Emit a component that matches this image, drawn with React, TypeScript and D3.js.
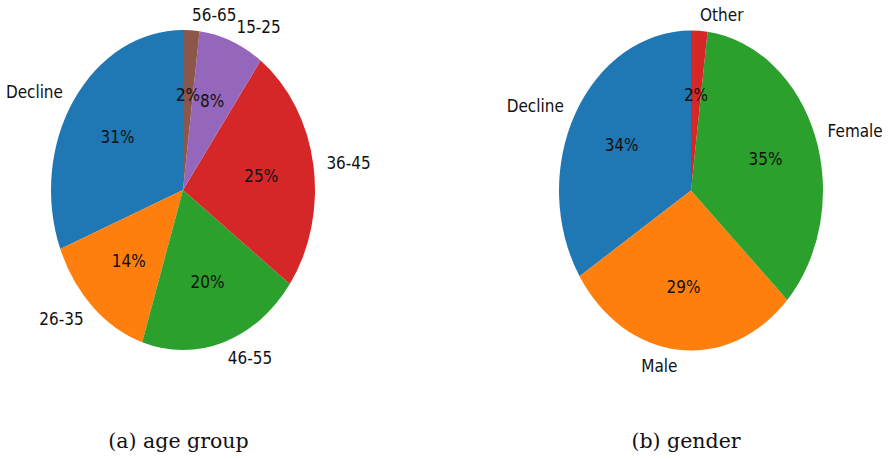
import * as d3 from 'd3';
import { useEffect, useRef } from 'react';

// age group pie (matplotlib order, counterclockwise from top)
const ageLabels = ['Decline', '26-35', '46-55', '36-45', '15-25', '56-65'];
const ageValues = [31, 14, 20, 25, 8, 2];

// gender pie
const genderLabels = ['Decline', 'Male', 'Female', 'Other'];
const genderValues = [34, 29, 35, 2];

const captions = ['(a) age group', '(b) gender'];

const colors = ['#1f77b4', '#ff7f0e', '#2ca02c', '#d62728', '#9467bd', '#8c564b'];

const W = 891;
const H = 459;

export default function App() {
  const svgRef = useRef<SVGSVGElement>(null);

  useEffect(() => {
    if (!svgRef.current) return;
    const svg = d3.select(svgRef.current);
    svg.selectAll('*').remove();

    const ry = 160;
    const rx = 132;
    const pies = [
      { cx: 183, cy: 190, labels: ageLabels, values: ageValues, caption: captions[0], capX: 178.5 },
      { cx: 691, cy: 190.5, labels: genderLabels, values: genderValues, caption: captions[1], capX: 686 },
    ];

    const pie = d3.pie<number>().sort(null).startAngle(0).endAngle(-2 * Math.PI);
    const arc = d3.arc<d3.PieArcDatum<number>>().innerRadius(0).outerRadius(ry);

    pies.forEach((p) => {
      // horizontal squeeze, like the stretched figure
      const g = svg.append('g')
        .attr('transform', `translate(${p.cx},${p.cy}) scale(${rx / ry},1)`);
      const arcs = pie(p.values);

      g.selectAll('path.slice')
        .data(arcs)
        .enter()
        .append('path')
        .attr('class', 'slice')
        .attr('fill', (_, i) => colors[i])
        .attr('d', arc);

      arcs.forEach((d, i) => {
        const a = (d.startAngle + d.endAngle) / 2;
        const sx = Math.sin(a);
        const sy = -Math.cos(a);
        // outer label at 1.1 r
        g.append('text')
          .attr('x', sx * ry * 1.1)
          .attr('y', sy * ry * 1.1)
          .attr('text-anchor', sx > 0 ? 'start' : 'end')
          .attr('dominant-baseline', 'central')
          .attr('font-family', 'DejaVu Sans')
          .attr('font-size', 18.5)
          .attr('fill', '#111')
          .text(p.labels[i]);
        // percent at 0.6 r
        g.append('text')
          .attr('x', sx * ry * 0.6)
          .attr('y', sy * ry * 0.6)
          .attr('text-anchor', 'middle')
          .attr('dominant-baseline', 'central')
          .attr('font-family', 'DejaVu Sans')
          .attr('font-size', 18.5)
          .attr('fill', '#111')
          .text(`${Math.round(p.values[i])}%`);
      });

      svg.append('text')
        .attr('x', p.capX)
        .attr('y', 448)
        .attr('text-anchor', 'middle')
        .attr('font-family', 'DejaVu Serif')
        .attr('font-size', 20.5)
        .attr('fill', '#111')
        .text(p.caption);
    });
  }, []);

  return (
    <svg
      ref={svgRef}
      width={W}
      height={H}
      style={{ position: 'absolute', left: 0, top: 0, background: '#fff' }}
    />
  );
}
